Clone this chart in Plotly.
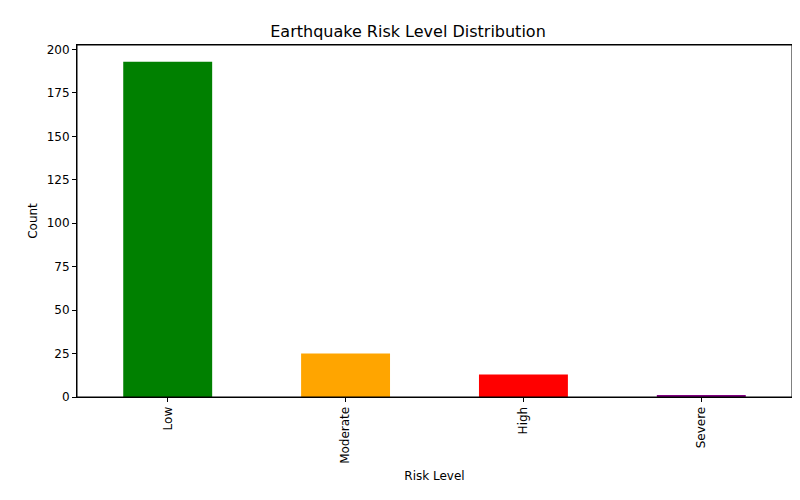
import plotly.graph_objects as go

risk_levels = ["Low", "Moderate", "High", "Severe"]
counts = [193, 25, 13, 1]
bar_colors = ["green", "orange", "red", "purple"]

fig = go.Figure(go.Bar(
    x=risk_levels,
    y=counts,
    marker=dict(color=bar_colors, line=dict(width=0)),
    width=0.5,
))

axis_style = dict(
    showline=True, linecolor="black", linewidth=1, mirror=True,
    ticks="outside", ticklen=4, tickcolor="black", showgrid=False,
    zeroline=False, tickfont=dict(size=12, color="black"), automargin=False,
)

fig.update_layout(
    width=800, height=500,
    margin=dict(l=69, r=16, t=37, b=111, autoexpand=False),
    paper_bgcolor="white", plot_bgcolor="white",
    font=dict(family="DejaVu Sans", color="black"),
    title=dict(text="Earthquake Risk Level Distribution", x=0.5, xanchor="center",
               y=1 - 23 / 500, yanchor="middle", font=dict(size=16)),
    showlegend=False,
    shapes=[dict(type="rect", xref="paper", yref="paper", x0=0, x1=1, y0=0, y1=1,
                 line=dict(color="black", width=1), layer="above")],
)
fig.update_xaxes(**axis_style, tickangle=-90, range=[-0.51, 3.51],
                 title=dict(text="Risk Level", font=dict(size=12), standoff=8))
fig.update_yaxes(**axis_style, range=[0, 202.6], tickvals=[0, 25, 50, 75, 100, 125, 150, 175, 200],
                 title=dict(text="Count", font=dict(size=12), standoff=6))

fig.write_html("out.html")
